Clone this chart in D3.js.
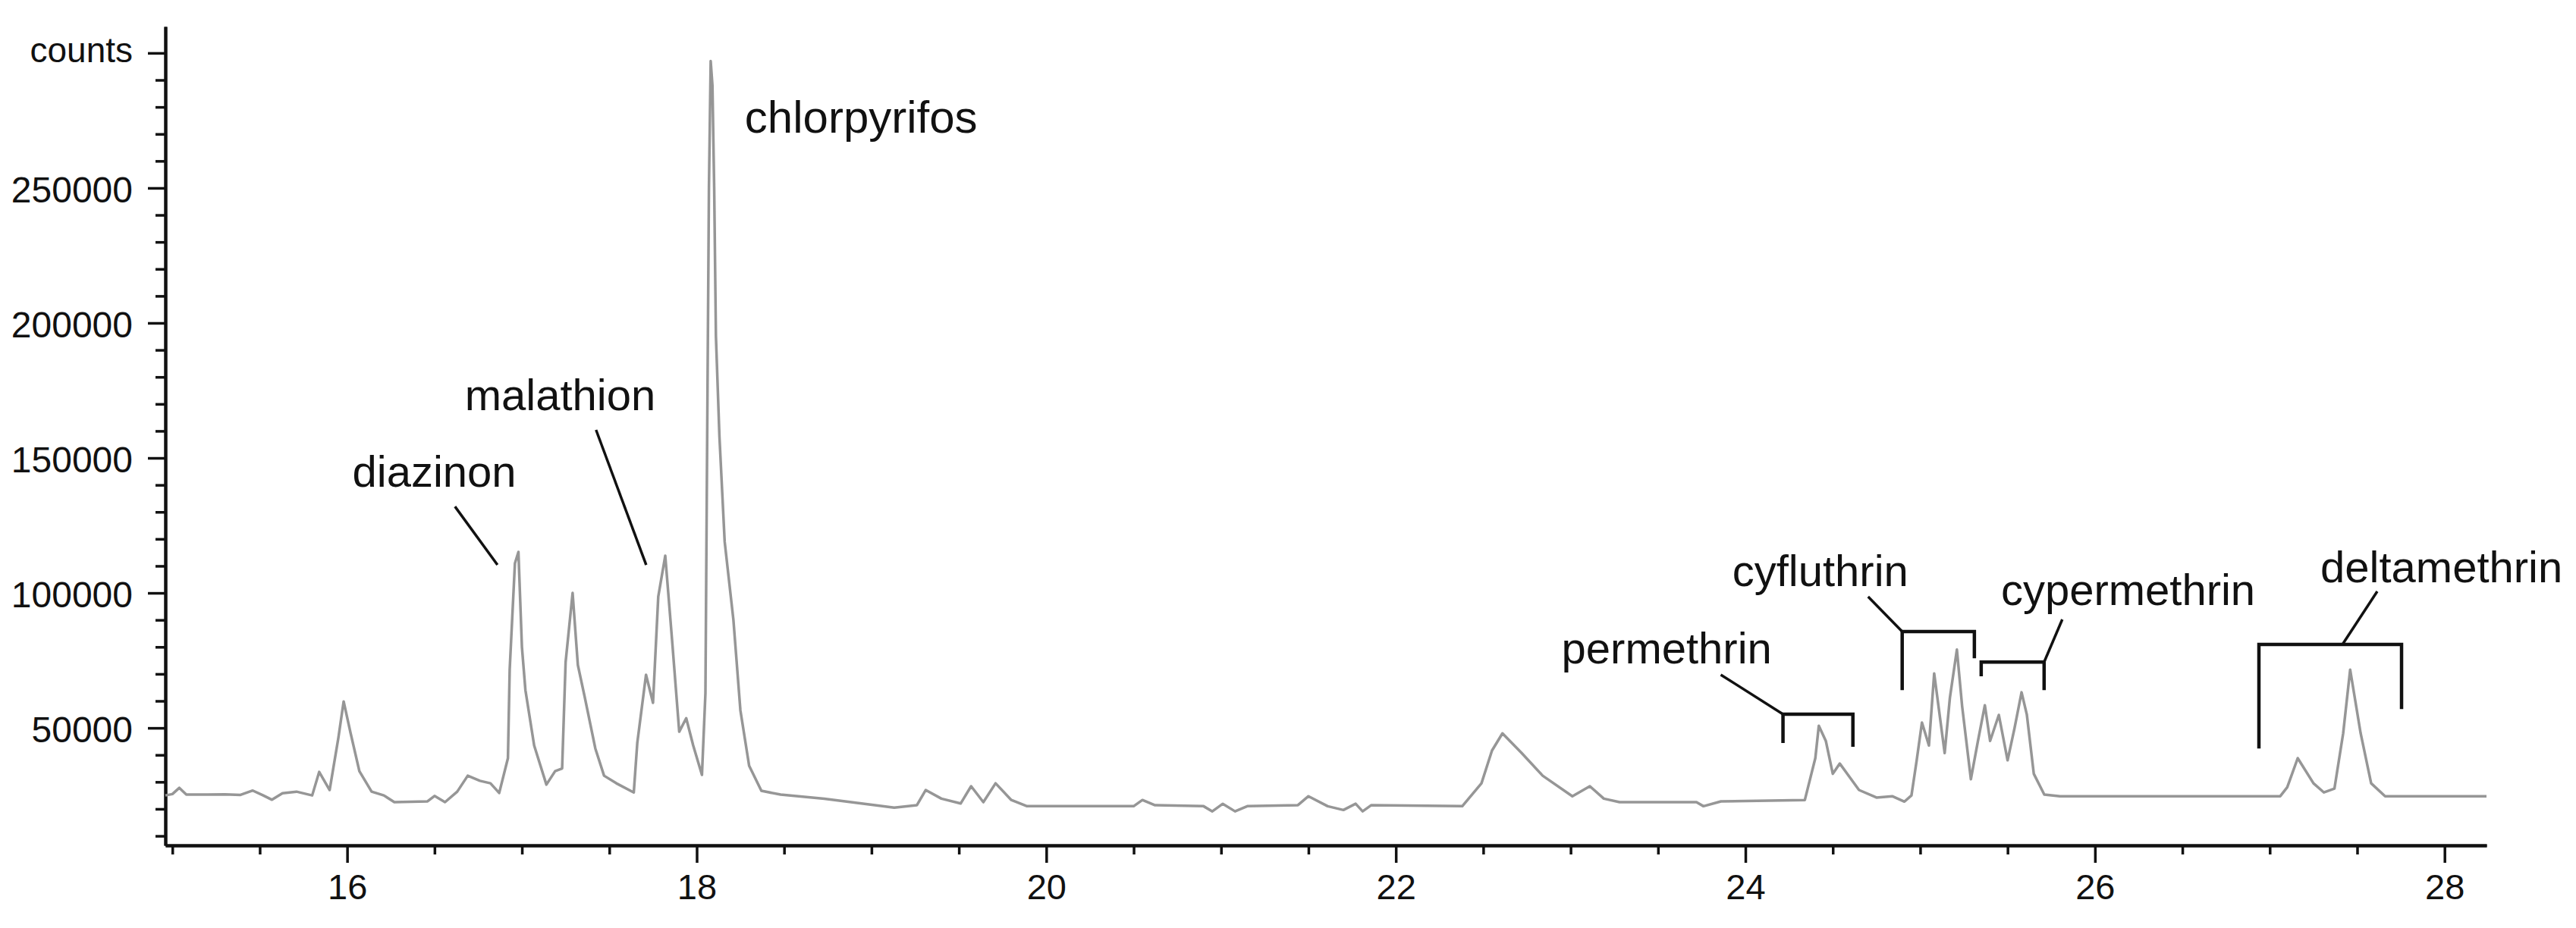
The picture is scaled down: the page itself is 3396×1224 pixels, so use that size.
<!DOCTYPE html>
<html>
<head>
<meta charset="utf-8">
<script src="https://cdn.jsdelivr.net/npm/d3@7"></script>
<style>
  html, body { margin: 0; padding: 0; background: #ffffff; }
  svg { display: block; }
  text { font-family: "Liberation Sans", Arial, "DejaVu Sans", sans-serif; fill: #111; }
</style>
</head>
<body>
<svg id="chart" width="3396" height="1224"></svg>
<script>
// ---------------- data ----------------
const retentionTime = [
  14.96, 15.00, 15.04, 15.08, 15.20, 15.30, 15.39, 15.46, 15.52, 15.57, 15.63, 15.71, 15.80, 15.84, 15.90,
  15.95, 15.98, 16.02, 16.07, 16.14, 16.21, 16.27, 16.46, 16.50, 16.56, 16.63, 16.69, 16.76, 16.82, 16.87,
  16.92, 16.93, 16.96, 16.98, 17.00, 17.02, 17.07, 17.14, 17.19, 17.23, 17.25, 17.29, 17.32, 17.36, 17.42,
  17.47, 17.54, 17.64, 17.66, 17.71, 17.75, 17.78, 17.82, 17.86, 17.90, 17.94, 17.98, 18.03, 18.05, 18.06,
  18.07, 18.08, 18.09, 18.10, 18.11, 18.13, 18.16, 18.21, 18.25, 18.30, 18.37, 18.48, 18.73, 19.02, 19.13,
  19.26, 19.31, 19.40, 19.51, 19.57, 19.64, 19.71, 19.80, 19.89, 20.50, 20.55, 20.62, 20.90, 20.95, 21.01,
  21.08, 21.15, 21.44, 21.50, 21.61, 21.70, 21.77, 21.81, 21.86, 22.38, 22.49, 22.55, 22.61, 22.72, 22.84,
  23.01, 23.11, 23.19, 23.28, 23.72, 23.76, 23.86, 24.34, 24.40, 24.42, 24.46, 24.50, 24.54, 24.65, 24.75,
  24.84, 24.91, 24.95, 24.98, 25.01, 25.05, 25.08, 25.14, 25.17, 25.21, 25.24, 25.29, 25.33, 25.37, 25.40,
  25.45, 25.50, 25.54, 25.58, 25.61, 25.65, 25.71, 25.80, 27.06, 27.10, 27.16, 27.25, 27.31, 27.37, 27.42,
  27.46, 27.52, 27.58, 27.66, 28.24
];
const counts = [
  25000, 25500, 27800, 25300, 25300, 25400, 25200, 26800, 25000, 23400, 25800, 26400, 25000, 33700, 27000,
  46400, 59800, 48000, 34000, 26400, 25000, 22500, 22800, 24800, 22500, 26400, 32300, 30400, 29500, 25900,
  38800, 71600, 111000, 115200, 80000, 64000, 43500, 29000, 34000, 35000, 74400, 100000, 73300, 61200, 42400,
  32300, 29500, 26100, 44400, 69700, 59300, 98600, 113800, 81800, 48600, 53600, 43500, 32600, 63000, 158000,
  250000, 297000, 288000, 250000, 195000, 158000, 119000, 90000, 56500, 36000, 26700, 25300, 23800, 21400, 20500,
  21400, 27000, 23800, 22000, 28400, 22500, 29500, 23300, 21000, 21000, 23300, 21400, 21000, 19100, 21900,
  19100, 21000, 21400, 24700, 21000, 19600, 21900, 19100, 21400, 21000, 29500, 41600, 48000, 40700, 32300,
  24700, 28400, 23800, 22500, 22500, 21000, 22800, 23300, 38800, 50800, 45200, 33000, 36800, 27000, 24200,
  24700, 22700, 25000, 38000, 52000, 43500, 70200, 40700, 61200, 79000, 58000, 31000, 45000, 58400, 45200,
  54800, 38000, 50000, 63200, 55000, 33000, 25300, 24700, 24700, 28000, 38800, 29500, 26100, 27500, 48000,
  71600, 48000, 29500, 24700, 24700
];

// axis ticks
const yTickValues = [50000, 100000, 150000, 200000, 250000, 300000];
const yTickLabels = ["50000", "100000", "150000", "200000", "250000", "counts"];
const xTickValues = [16, 18, 20, 22, 24, 26, 28];
const xTickLabels = ["16", "18", "20", "22", "24", "26", "28"];

// compound annotations (label anchor and leader line in data units)
const compounds      = ["diazinon", "malathion", "chlorpyrifos", "permethrin", "cyfluthrin", "cypermethrin", "deltamethrin"];
const labelTime      = [16.03, 16.673, 18.275, 22.948, 23.925, 25.462, 27.29];
const labelCounts    = [139300, 167700, 270500, 73900, 102500, 95500, 103900];
const leaderFromTime   = [16.617, 17.424, null, 23.859, 24.702, 25.813, 27.615];
const leaderFromCounts = [132000, 160400, null, 69700, 98600, 90200, 100600];
const leaderToTime     = [16.86, 17.711, null, 24.215, 24.897, 25.709, 27.416];
const leaderToCounts   = [110400, 110400, null, 55100, 85700, 74400, 80900];
// brackets grouping isomer peaks
const bracketNames       = ["permethrin", "cyfluthrin", "cypermethrin", "deltamethrin"];
const bracketStart       = [24.215, 24.897, 25.349, 26.938];
const bracketEnd         = [24.615, 25.310, 25.709, 27.754];
const bracketTop         = [55100, 85700, 74400, 80900];
const bracketLeftBottom  = [44400, 64000, 69100, 42400];
const bracketRightBottom = [42980, 75800, 64000, 57000];

// ---------------- drawing ----------------
const svg = d3.select("#chart");
const x = d3.scaleLinear().domain([14.96, 28.24]).range([218, 3278]);
const y = d3.scaleLinear().domain([6500, 309800]).range([1115, 35]);

// minor ticks
const yMinor = d3.range(10000, 300001, 10000).filter(v => !yTickValues.includes(v));
const xMinor = d3.range(15, 28.001, 0.5).filter(v => !xTickValues.includes(Math.round(v * 100) / 100));

const gYMinor = svg.append("g").attr("transform", "translate(218,0)")
  .call(d3.axisLeft(y).tickValues(yMinor).tickSize(13).tickSizeOuter(0).tickFormat(""));
const gXMinor = svg.append("g").attr("transform", "translate(0,1115)")
  .call(d3.axisBottom(x).tickValues(xMinor).tickSize(12).tickSizeOuter(0).tickFormat(""));

const gY = svg.append("g").attr("transform", "translate(218,0)")
  .call(d3.axisLeft(y).tickValues(yTickValues).tickSize(23).tickSizeOuter(0).tickPadding(20)
    .tickFormat((d, i) => yTickLabels[i]));
const gX = svg.append("g").attr("transform", "translate(0,1115)")
  .call(d3.axisBottom(x).tickValues(xTickValues).tickSize(23).tickSizeOuter(0).tickPadding(15)
    .tickFormat((d, i) => xTickLabels[i]));

[gYMinor, gXMinor, gY, gX].forEach(g => {
  g.selectAll("path.domain").attr("stroke", "#111").attr("stroke-width", 4);
  g.selectAll(".tick line").attr("stroke", "#111").attr("stroke-width", 3.5);
});
gY.selectAll(".tick text")
  .attr("font-size", 48).attr("fill", "#111").attr("dy", "0.38em")
  .style("font-family", "'Liberation Sans', Arial, sans-serif");
gY.selectAll(".tick text").filter(d => d === 300000)
  .attr("font-size", 46).attr("dy", "0.26em");
gX.selectAll(".tick text")
  .attr("font-size", 47).attr("fill", "#111")
  .style("font-family", "'Liberation Sans', Arial, sans-serif");

// chromatogram trace
const trace = retentionTime.map((t, i) => [t, counts[i]]);
svg.append("path")
  .datum(trace)
  .attr("fill", "none")
  .attr("stroke", "#969696")
  .attr("stroke-width", 3.5)
  .attr("stroke-linejoin", "round")
  .attr("d", d3.line().x(d => x(d[0])).y(d => y(d[1])));

// leader lines and labels
const ann = svg.append("g");
compounds.forEach((name, i) => {
  if (leaderFromTime[i] !== null) {
    ann.append("line")
      .attr("x1", x(leaderFromTime[i])).attr("y1", y(leaderFromCounts[i]))
      .attr("x2", x(leaderToTime[i])).attr("y2", y(leaderToCounts[i]))
      .attr("stroke", "#111").attr("stroke-width", 3.5);
  }
  ann.append("text")
    .attr("x", x(labelTime[i])).attr("y", y(labelCounts[i]))
    .attr("font-size", name === "chlorpyrifos" ? 60 : 58)
    .text(name);
});

// brackets
bracketNames.forEach((name, i) => {
  const p = d3.path();
  p.moveTo(x(bracketStart[i]), y(bracketLeftBottom[i]));
  p.lineTo(x(bracketStart[i]), y(bracketTop[i]));
  p.lineTo(x(bracketEnd[i]), y(bracketTop[i]));
  p.lineTo(x(bracketEnd[i]), y(bracketRightBottom[i]));
  ann.append("path").attr("d", p.toString())
    .attr("fill", "none").attr("stroke", "#111").attr("stroke-width", 4.5)
    .attr("stroke-linejoin", "miter");
});
</script>
</body>
</html>
